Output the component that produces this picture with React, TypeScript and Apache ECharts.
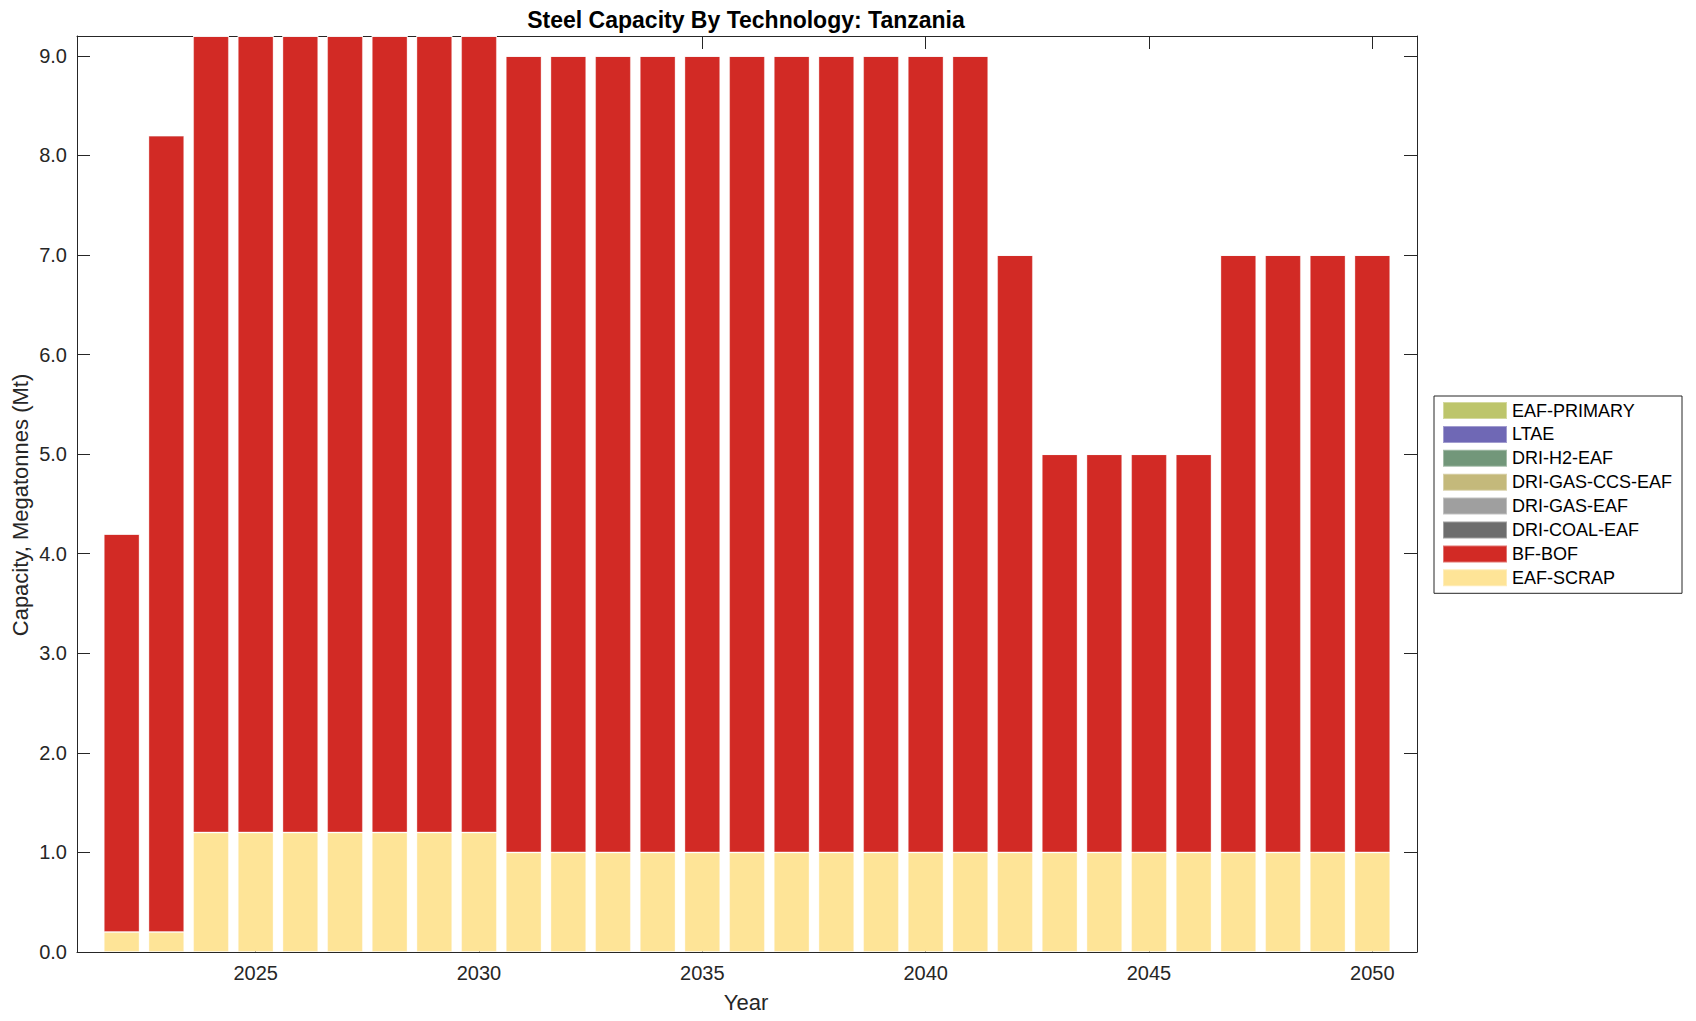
import React, { useEffect, useRef } from "react";
import * as echarts from "echarts";

const years = [2022, 2023, 2024, 2025, 2026, 2027, 2028, 2029, 2030, 2031, 2032, 2033, 2034, 2035, 2036, 2037, 2038, 2039, 2040, 2041, 2042, 2043, 2044, 2045, 2046, 2047, 2048, 2049, 2050];
const eafScrap = [0.2, 0.2, 1.2, 1.2, 1.2, 1.2, 1.2, 1.2, 1.2, 1.0, 1.0, 1.0, 1.0, 1.0, 1.0, 1.0, 1.0, 1.0, 1.0, 1.0, 1.0, 1.0, 1.0, 1.0, 1.0, 1.0, 1.0, 1.0, 1.0];
const bfBof = [4.0, 8.0, 8.0, 8.0, 8.0, 8.0, 8.0, 8.0, 8.0, 8.0, 8.0, 8.0, 8.0, 8.0, 8.0, 8.0, 8.0, 8.0, 8.0, 8.0, 6.0, 4.0, 4.0, 4.0, 4.0, 6.0, 6.0, 6.0, 6.0];
const zeros = [0, 0, 0, 0, 0, 0, 0, 0, 0, 0, 0, 0, 0, 0, 0, 0, 0, 0, 0, 0, 0, 0, 0, 0, 0, 0, 0, 0, 0];

const seriesNames = ["EAF-SCRAP", "BF-BOF", "DRI-COAL-EAF", "DRI-GAS-EAF", "DRI-GAS-CCS-EAF", "DRI-H2-EAF", "LTAE", "EAF-PRIMARY"];
const seriesValues = [eafScrap, bfBof, zeros, zeros, zeros, zeros, zeros, zeros];
const seriesColors = ["#fee497", "#d22a25", "#6d6d6d", "#9f9f9f", "#c4b97b", "#72977a", "#6f68b5", "#bdc56b"];

const xTicks = [2025, 2030, 2035, 2040, 2045, 2050];
const yTicks = [0, 1, 2, 3, 4, 5, 6, 7, 8, 9];

const title = "Steel Capacity By Technology: Tanzania";
const xName = "Year";
const yName = "Capacity, Megatonnes (Mt)";

export default function App() {
  const ref = useRef<HTMLDivElement>(null);
  useEffect(() => {
    if (!ref.current) return;
    const chart = echarts.init(ref.current, null, { renderer: "svg" });
    const axisColor = "#262626";
    const font = "'Liberation Sans', Arial, Helvetica, sans-serif";

    const plotLeft = 77;
    const plotTop = 36;
    const plotWidth = 1340;
    const plotHeight = 916;
    const xMin = 2021;
    const xMax = 2051;
    const step = plotWidth / (xMax - xMin);
    const barLeft = plotLeft + step * (years[0] - 0.5 - xMin);
    const barWidthAll = step * years.length;

    const frameX = {
      type: "value",
      gridIndex: 1,
      min: xMin,
      max: xMax,
      splitLine: { show: false },
      axisLine: { show: true, onZero: false, lineStyle: { color: axisColor, width: 1 } },
    };
    const frameY = {
      type: "value",
      gridIndex: 1,
      min: 0,
      max: 9.2,
      splitLine: { show: false },
      axisLine: { show: true, onZero: false, lineStyle: { color: axisColor, width: 1 } },
    };
    const option: any = {
      animation: false,
      backgroundColor: "#ffffff",
      textStyle: { fontFamily: font },
      grid: [
        { left: barLeft, top: plotTop, width: barWidthAll, height: plotHeight, containLabel: false },
        { left: plotLeft, top: plotTop, width: plotWidth, height: plotHeight, containLabel: false },
      ],
      xAxis: [
        {
          type: "category",
          gridIndex: 0,
          data: years.map(String),
          boundaryGap: true,
          axisLine: { show: false },
          axisTick: { show: false },
          axisLabel: { show: false },
          splitLine: { show: false },
        },
        {
          ...frameX,
          position: "bottom",
          axisTick: { show: true, inside: true, length: 13, customValues: xTicks, lineStyle: { color: axisColor } },
          axisLabel: { show: true, customValues: xTicks, fontSize: 20, color: axisColor, margin: 11, fontFamily: font, formatter: (v: number) => String(v) },
        },
        {
          ...frameX,
          position: "top",
          axisTick: { show: true, inside: true, length: 13, customValues: xTicks, lineStyle: { color: axisColor } },
          axisLabel: { show: false },
        },
      ],
      yAxis: [
        {
          type: "value",
          gridIndex: 0,
          min: 0,
          max: 9.2,
          axisLine: { show: false },
          axisTick: { show: false },
          axisLabel: { show: false },
          splitLine: { show: false },
        },
        {
          ...frameY,
          position: "left",
          axisTick: { show: true, inside: true, length: 13, customValues: yTicks, lineStyle: { color: axisColor } },
          axisLabel: { show: true, customValues: yTicks, fontSize: 20, color: axisColor, margin: 10, fontFamily: font, formatter: (v: number) => v.toFixed(1) },
        },
        {
          ...frameY,
          position: "right",
          axisTick: { show: true, inside: true, length: 13, customValues: yTicks, lineStyle: { color: axisColor } },
          axisLabel: { show: false },
        },
      ],
      legend: {
        orient: "vertical",
        left: 1434,
        top: 396,
        itemWidth: 64,
        itemHeight: 17,
        itemGap: 4.9,
        padding: [5, 10, 6, 8],
        borderColor: axisColor,
        borderWidth: 1,
        backgroundColor: "#ffffff",
        icon: "rect",
        data: seriesNames.slice().reverse(),
        textStyle: { fontSize: 18, color: "#000000", fontFamily: font },
      },
      graphic: [
        {
          type: "text",
          x: 746,
          y: 19.5,
          style: { text: title, font: `bold 23px ${font}`, fill: "#000000", align: "center", verticalAlign: "middle" },
        },
        {
          type: "text",
          x: 746,
          y: 1002,
          style: { text: xName, font: `22px ${font}`, fill: axisColor, align: "center", verticalAlign: "middle" },
        },
        {
          type: "text",
          x: 20,
          y: 505,
          rotation: Math.PI / 2,
          style: { text: yName, font: `22px ${font}`, fill: axisColor, align: "center", verticalAlign: "middle" },
        },
      ],
      series: seriesNames.map((name, i) => ({
        name,
        type: "bar",
        stack: "total",
        xAxisIndex: 0,
        yAxisIndex: 0,
        barWidth: 35.8,
        itemStyle: { color: seriesColors[i], borderColor: "rgba(255,255,255,0.35)", borderWidth: 1 },
        emphasis: { disabled: true },
        data: seriesValues[i],
      })),
    };
    chart.setOption(option);
    return () => chart.dispose();
  }, []);
  return <div ref={ref} style={{ position: "absolute", left: 0, top: 0, width: 1696, height: 1021 }} />;
}
